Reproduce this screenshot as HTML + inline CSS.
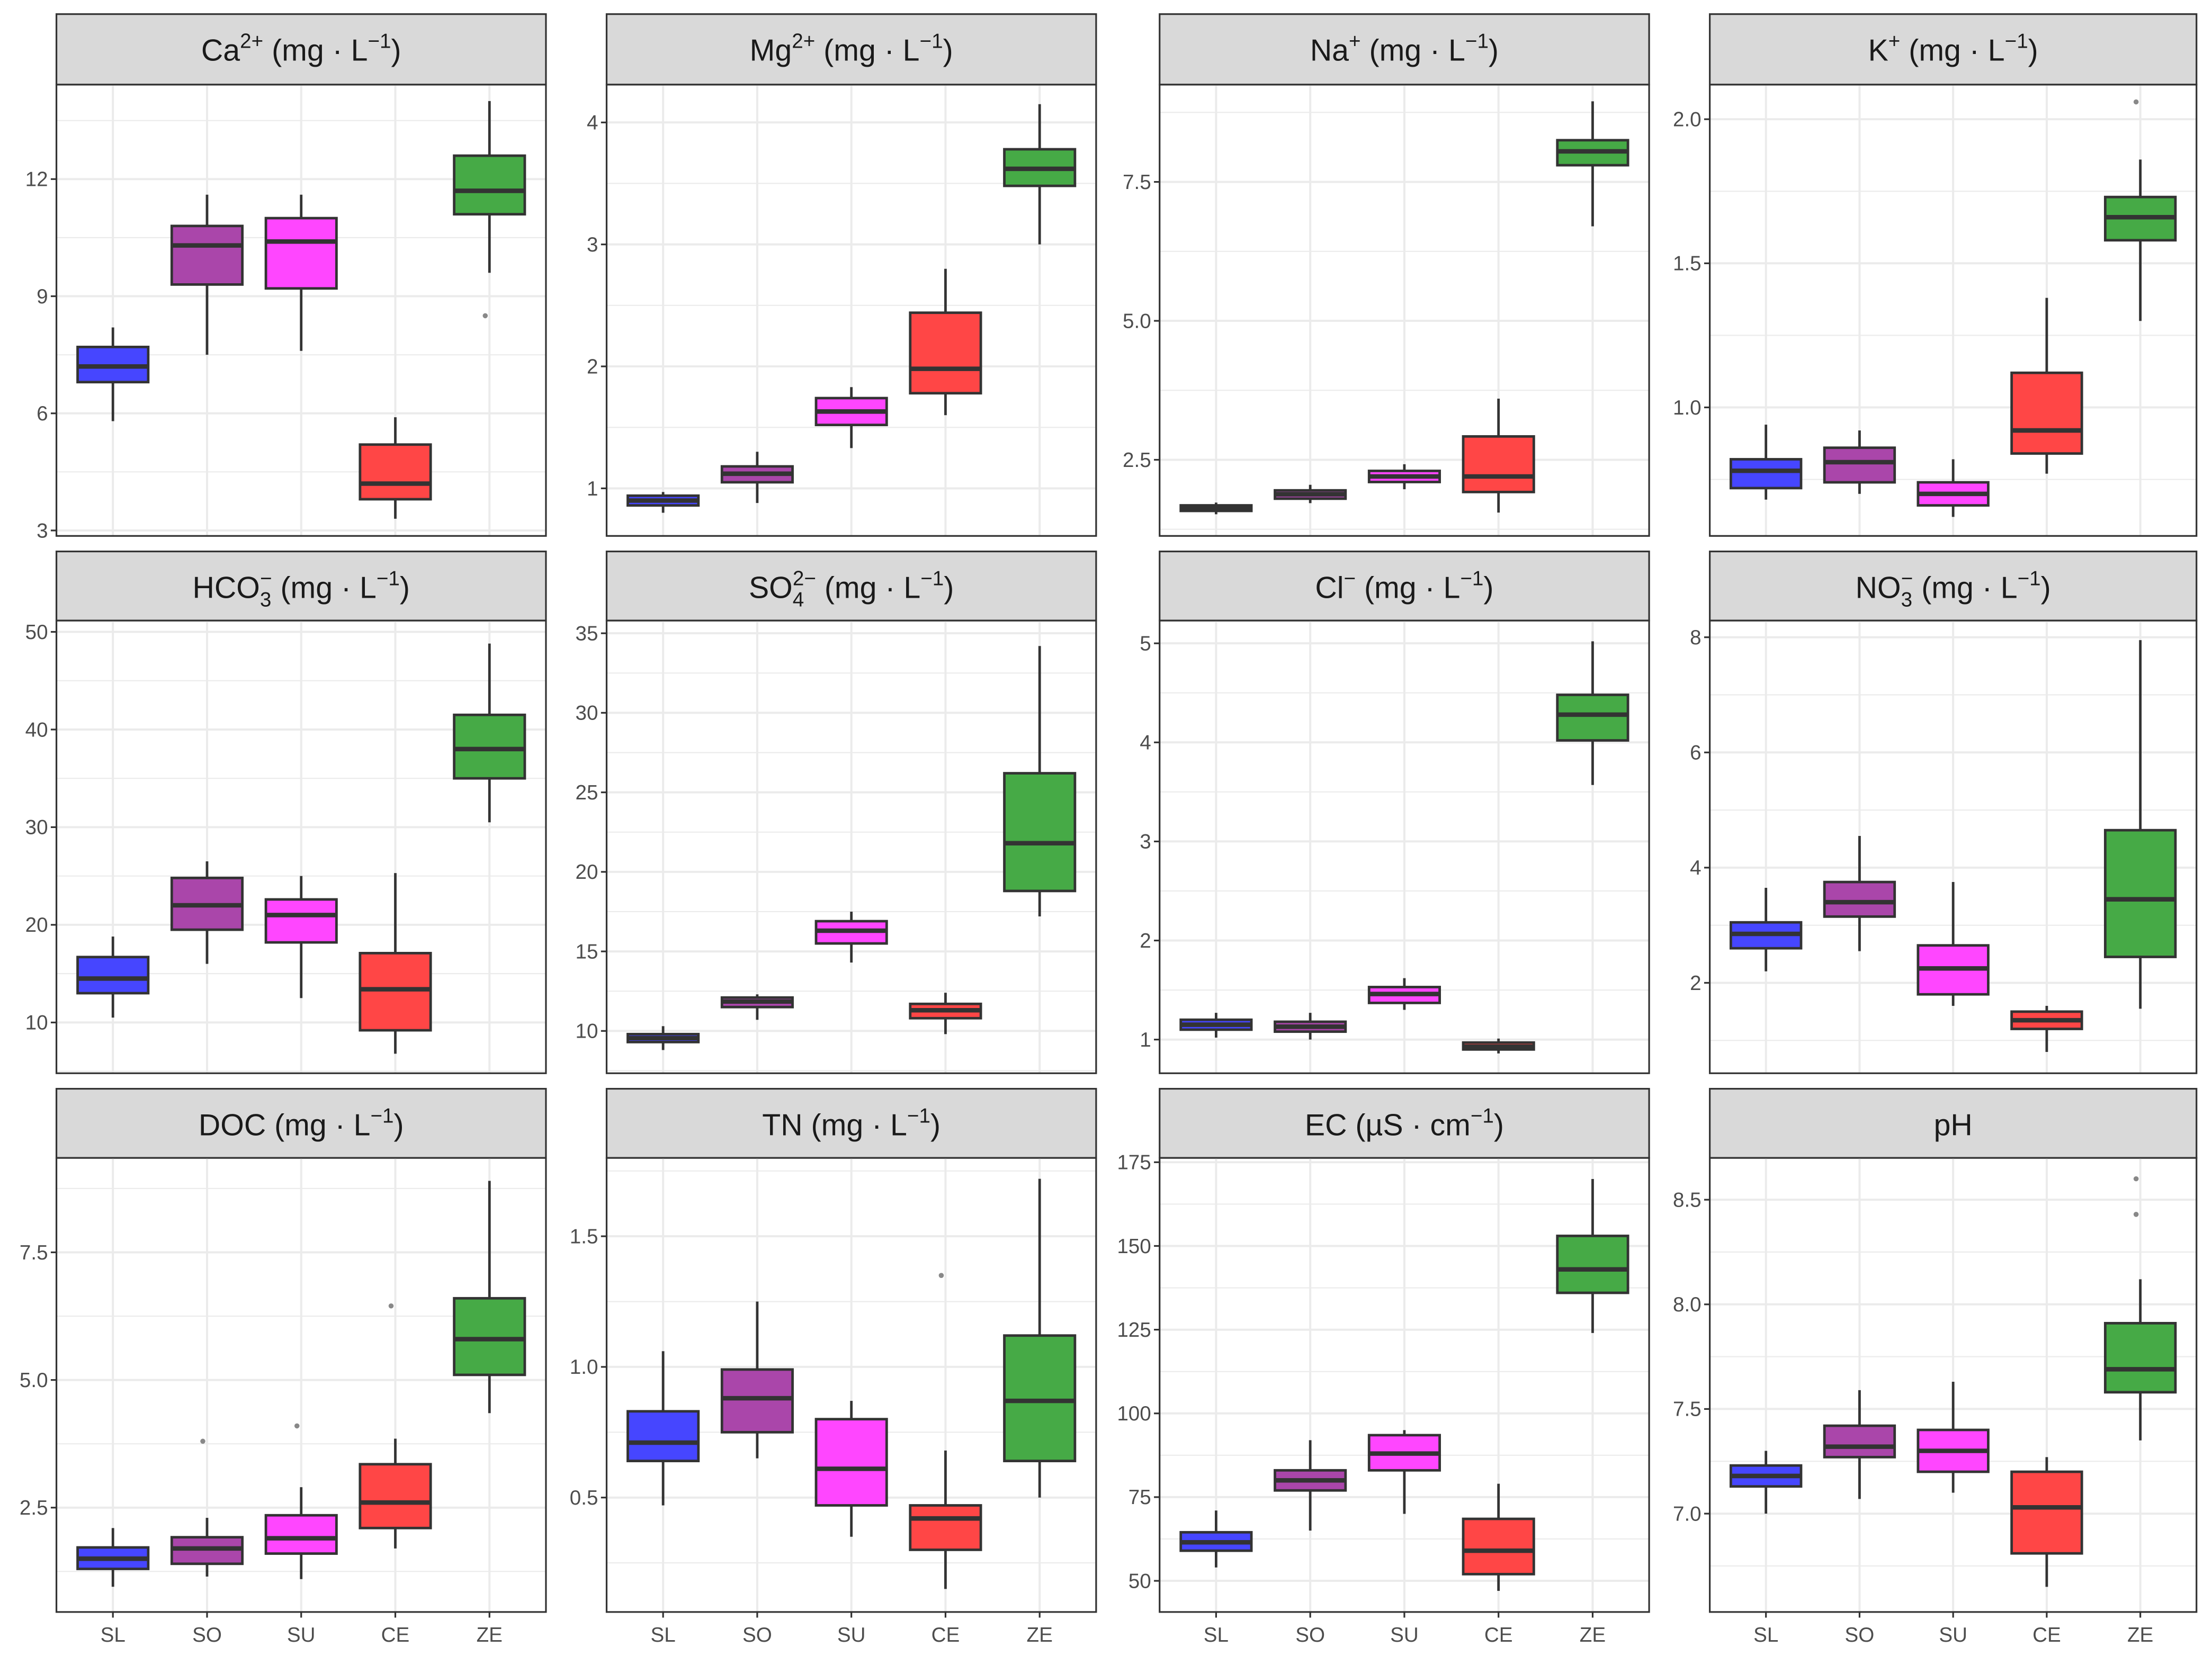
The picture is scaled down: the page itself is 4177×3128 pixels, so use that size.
<!DOCTYPE html>
<html><head><meta charset="utf-8"><style>
html,body{margin:0;padding:0;background:#fff}
svg{display:block}
text{font-family:"Liberation Sans",Arial,sans-serif}
</style></head><body>
<svg id="chart" width="4177" height="3128" viewBox="0 0 1568 1174.2" xmlns="http://www.w3.org/2000/svg">
<rect x="0" y="0" width="1568" height="1175" fill="#fff"/>
<g id="root"></g>
</svg>
<script>
const groups=['SL','SO','SU','CE','ZE'];
const colors=['#4646FF','#AA46AA','#FF46FF','#FF4646','#46AA46'];
const panelNames=['ca','mg','na','k','hco3','so4','cl','no3','doc','tn','ec','ph'];
const domLo=[2.86,0.61,1.13,0.554,4.8,7.34,0.66,0.43,0.456,0.062,40.7,6.53];
const domHi=[14.42,4.31,9.25,2.12,51.16,35.8,5.23,8.29,9.35,1.80,176.3,8.70];
const tickVals=[[3,6,9,12],[1,2,3,4],[2.5,5,7.5],[1,1.5,2],[10,20,30,40,50],[10,15,20,25,30,35],[1,2,3,4,5],[2,4,6,8],[2.5,5,7.5],[0.5,1,1.5],[50,75,100,125,150,175],[7,7.5,8,8.5]];
const tickLabels=[['3','6','9','12'],['1','2','3','4'],['2.5','5.0','7.5'],['1.0','1.5','2.0'],['10','20','30','40','50'],['10','15','20','25','30','35'],['1','2','3','4','5'],['2','4','6','8'],['2.5','5.0','7.5'],['0.5','1.0','1.5'],['50','75','100','125','150','175'],['7.0','7.5','8.0','8.5']];
const q1=[[6.8,9.3,9.2,3.8,11.1],[0.86,1.05,1.52,1.78,3.48],[1.58,1.8,2.1,1.92,7.8],[0.72,0.74,0.66,0.84,1.58],[13,19.5,18.2,9.2,35],[9.3,11.5,15.5,10.8,18.8],[1.1,1.08,1.37,0.9,4.02],[2.6,3.15,1.8,1.2,2.45],[1.3,1.4,1.6,2.1,5.1],[0.64,0.75,0.47,0.3,0.64],[59,77,83,52,136],[7.13,7.27,7.2,6.81,7.58]];
const med=[[7.2,10.3,10.4,4.2,11.7],[0.9,1.12,1.63,1.98,3.62],[1.63,1.88,2.2,2.2,8.05],[0.78,0.81,0.7,0.92,1.66],[14.5,22,21,13.4,38],[9.55,11.85,16.3,11.3,21.8],[1.15,1.13,1.46,0.93,4.28],[2.85,3.4,2.25,1.35,3.45],[1.5,1.7,1.9,2.6,5.8],[0.71,0.88,0.61,0.42,0.87],[61.5,80,88,59,143],[7.18,7.32,7.3,7.03,7.69]];
const q3=[[7.7,10.8,11.0,5.2,12.6],[0.94,1.18,1.74,2.44,3.78],[1.68,1.95,2.3,2.92,8.25],[0.82,0.86,0.74,1.12,1.73],[16.7,24.8,22.6,17.1,41.5],[9.8,12.1,16.9,11.7,26.2],[1.2,1.18,1.53,0.97,4.48],[3.05,3.75,2.65,1.5,4.65],[1.72,1.92,2.35,3.35,6.6],[0.83,0.99,0.8,0.47,1.12],[64.5,83,93.5,68.5,153],[7.23,7.42,7.4,7.2,7.91]];
const wLo=[[5.8,7.5,7.6,3.3,9.6],[0.8,0.88,1.33,1.6,3.0],[1.52,1.72,1.97,1.55,6.7],[0.68,0.7,0.62,0.77,1.3],[10.5,16,12.5,6.8,30.5],[8.8,10.7,14.3,9.8,17.2],[1.02,1.0,1.3,0.86,3.57],[2.2,2.55,1.6,0.8,1.55],[0.95,1.15,1.1,1.7,4.35],[0.47,0.65,0.35,0.15,0.5],[54,65,70,47,124],[7.0,7.07,7.1,6.65,7.35]];
const wHi=[[8.2,11.6,11.6,5.9,14.0],[0.97,1.3,1.83,2.8,4.15],[1.73,2.05,2.42,3.6,8.95],[0.94,0.92,0.82,1.38,1.86],[18.8,26.5,25,25.3,48.8],[10.3,12.3,17.5,12.4,34.2],[1.27,1.27,1.62,1.01,5.02],[3.65,4.55,3.75,1.6,7.95],[2.1,2.3,2.9,3.85,8.9],[1.06,1.25,0.87,0.68,1.72],[71,92,95,79,170],[7.3,7.59,7.63,7.27,8.12]];
const outliers=[[[],[],[],[],[8.5]],[[],[],[],[],[]],[[],[],[],[],[]],[[],[],[],[],[2.06]],[[],[],[],[],[]],[[],[],[],[],[]],[[],[],[],[],[]],[[],[],[],[],[]],[[],[3.8],[4.1],[6.45],[]],[[],[],[],[1.35],[]],[[],[],[],[],[]],[[],[],[],[],[8.6,8.43]]];
const titles=[
 [['Ca',0],['2+',1],[' (mg · L',0],['−1',1],[')',0]],
 [['Mg',0],['2+',1],[' (mg · L',0],['−1',1],[')',0]],
 [['Na',0],['+',1],[' (mg · L',0],['−1',1],[')',0]],
 [['K',0],['+',1],[' (mg · L',0],['−1',1],[')',0]],
 [['HCO',0],['3',-1],['−',2],[' (mg · L',0],['−1',1],[')',0]],
 [['SO',0],['4',-1],['2−',2],[' (mg · L',0],['−1',1],[')',0]],
 [['Cl',0],['−',1],[' (mg · L',0],['−1',1],[')',0]],
 [['NO',0],['3',-1],['−',2],[' (mg · L',0],['−1',1],[')',0]],
 [['DOC (mg · L',0],['−1',1],[')',0]],
 [['TN (mg · L',0],['−1',1],[')',0]],
 [['EC (µS · cm',0],['−1',1],[')',0]],
 [['pH',0]]];
const colX=[40,430,822,1212], colW=[347,347,347,345];
const stripY=[10,391,772], plotY=[60,440,821], plotH=[320,321,322];
const NS='http://www.w3.org/2000/svg';
const root=document.getElementById('root');
function mk(tag,attrs,parent){const e=document.createElementNS(NS,tag);for(const k in attrs)e.setAttribute(k,attrs[k]);(parent||root).appendChild(e);return e;}
panelNames.forEach((pn,p)=>{
  const c=p%4,r=Math.floor(p/4);
  const x0=colX[c],w=colW[c],y0=plotY[r],h=plotH[r];
  const lo=domLo[p],hi=domHi[p];
  const ys=v=>y0+h-(v-lo)/(hi-lo)*h;
  const xs=i=>x0+(i+1-0.4)/5.2*w;
  const bw=0.75/5.2*w;
  const g=mk('g',{});
  
  
  const st=mk('rect',{x:x0,y:stripY[r],width:w,height:y0-stripY[r],fill:'#D9D9D9',stroke:'#333','stroke-width':1.2},g);
  
  
  const t=mk('text',{x:x0+w/2,y:stripY[r]+33,'text-anchor':'middle','font-size':21.5,fill:'#1a1a1a'},g);
  
  
  let prevShift=0;
  titles[p].forEach(([s,k])=>{
    const sp=document.createElementNS(NS,'tspan');
    let shift=0,fs=21.5,dx=0;
    if(k===1){shift=-9;fs=14.5;}
    if(k===-1){shift=6;fs=14.5;}
    if(k===2){shift=-9;fs=14.5;dx=-8;}
    sp.setAttribute('dy',shift-prevShift);prevShift=shift;
    sp.setAttribute('font-size',fs);
    if(dx)sp.setAttribute('dx',dx);
    sp.textContent=s;t.appendChild(sp);
  });
  const tv=tickVals[p];
  const step=tv[1]-tv[0];
  const minors=[tv[0]-step/2].concat(tv.map(v=>v+step/2));
  minors.forEach(v=>{if(v>lo&&v<hi){const l=mk('line',{x1:x0,x2:x0+w,y1:ys(v),y2:ys(v),stroke:'#EBEBEB','stroke-width':0.8},g);}});
  tv.forEach((v,i)=>{
    const l=mk('line',{x1:x0,x2:x0+w,y1:ys(v),y2:ys(v),stroke:'#EBEBEB','stroke-width':1.5},g);
    
    
    const tk=mk('line',{x1:x0-4,x2:x0,y1:ys(v),y2:ys(v),stroke:'#333','stroke-width':1.2},g);
    
    
    const tl=mk('text',{x:x0-6,y:ys(v)+5,'text-anchor':'end','font-size':14.5,fill:'#4d4d4d'},g);
    
    
    tl.textContent=tickLabels[p][i];
  });
  groups.forEach((gn,i)=>{
    const l=mk('line',{x1:xs(i),x2:xs(i),y1:y0,y2:y0+h,stroke:'#EBEBEB','stroke-width':1.5},g);
    
    
  });
  groups.forEach((gn,i)=>{
    const bg=mk('g',{},g);
    
    
    const cx=xs(i);
    mk('line',{x1:cx,x2:cx,y1:ys(wHi[p][i]),y2:ys(q3[p][i]),stroke:'#333','stroke-width':1.8},bg);
    mk('line',{x1:cx,x2:cx,y1:ys(q1[p][i]),y2:ys(wLo[p][i]),stroke:'#333','stroke-width':1.8},bg);
    mk('rect',{x:cx-bw/2,y:ys(q3[p][i]),width:bw,height:ys(q1[p][i])-ys(q3[p][i]),fill:colors[i],stroke:'#333','stroke-width':1.8},bg);
    mk('line',{x1:cx-bw/2,x2:cx+bw/2,y1:ys(med[p][i]),y2:ys(med[p][i]),stroke:'#333','stroke-width':3.2},bg);
    outliers[p][i].forEach(v=>{
      const o=mk('circle',{cx:cx-3,cy:ys(v),r:1.8,fill:'#888'},bg);
      
      
    });
  });
  const br=mk('rect',{x:x0,y:y0,width:w,height:h,fill:'none',stroke:'#333','stroke-width':1.2},g);
  
  
  if(r===2){
    groups.forEach((gn,i)=>{
      const tk=mk('line',{x1:xs(i),x2:xs(i),y1:y0+h,y2:y0+h+4,stroke:'#333','stroke-width':1.2},g);
      
      
      const tl=mk('text',{x:xs(i),y:y0+h+21,'text-anchor':'middle','font-size':14.5,fill:'#4d4d4d'},g);
      
      
      tl.textContent=gn;
    });
  }
});
</script>
</body></html>
